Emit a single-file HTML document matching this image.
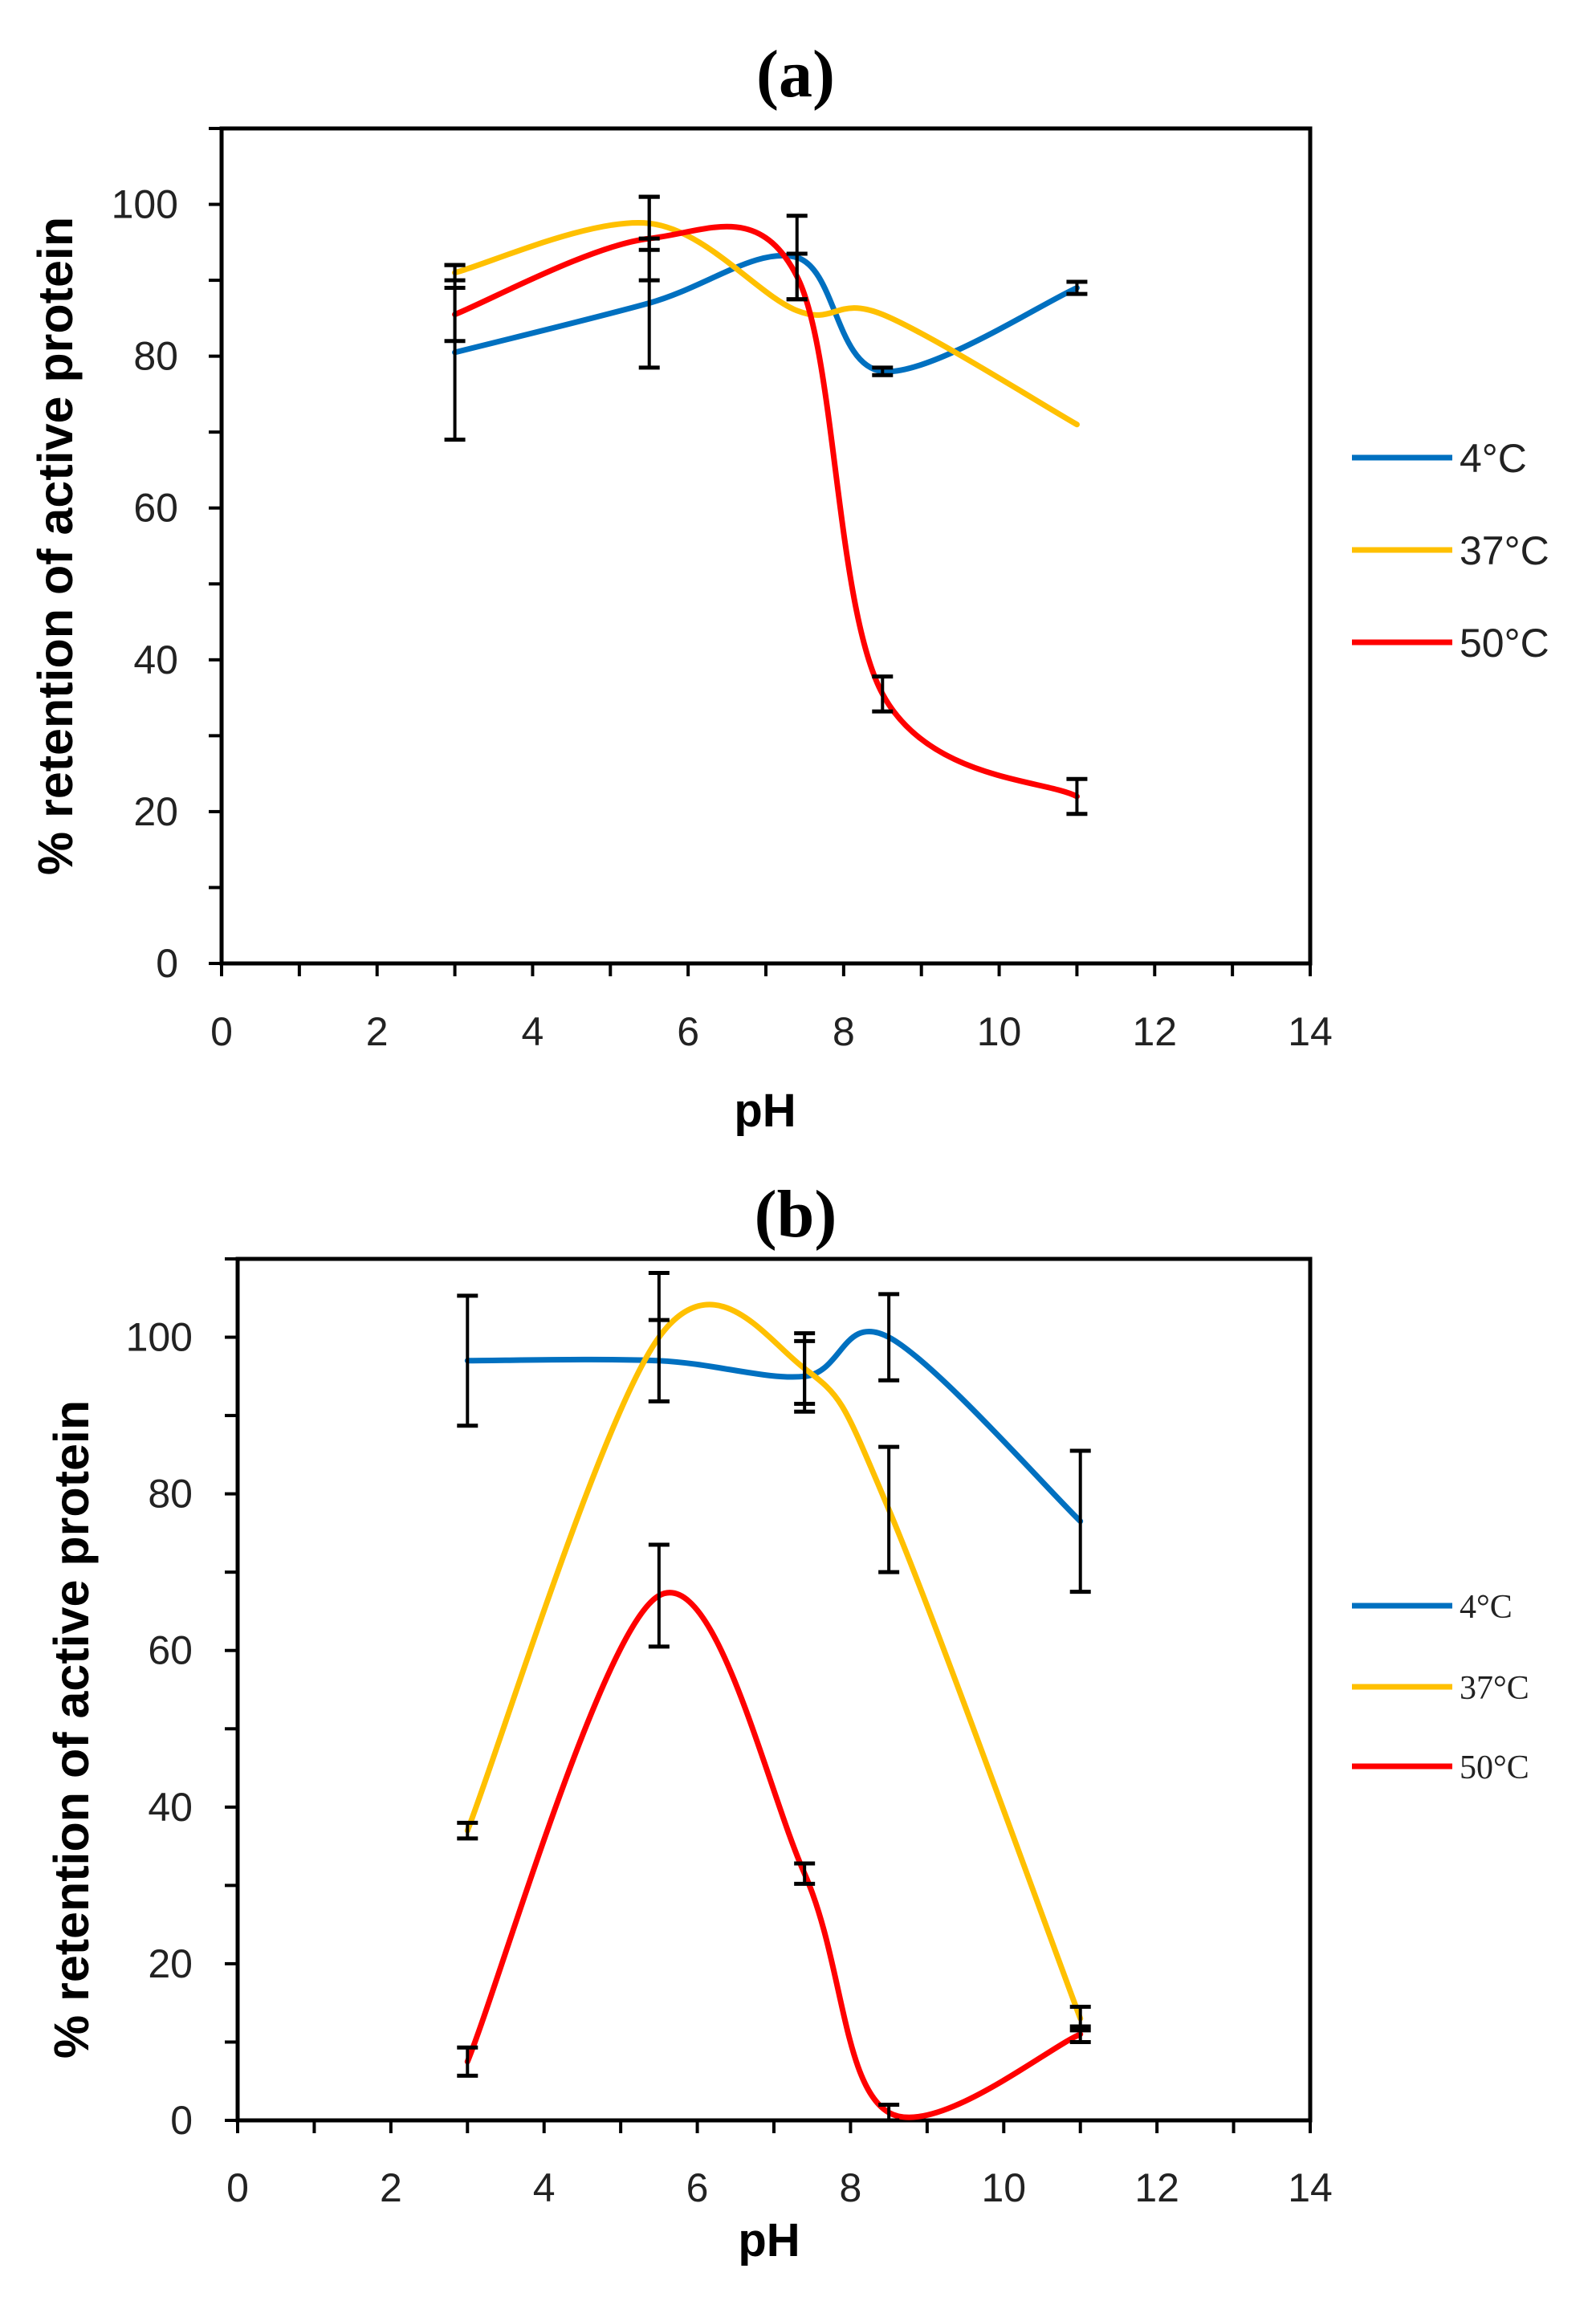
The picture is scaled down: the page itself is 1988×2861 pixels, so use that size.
<!DOCTYPE html>
<html><head><meta charset="utf-8"><style>
html,body{margin:0;padding:0;background:#fff;}
svg{display:block;}
</style></head><body>
<svg id="fig" width="1988" height="2861" xmlns="http://www.w3.org/2000/svg"></svg>
<script>
const phValues = [3, 5.5, 7.4, 8.5, 11];
const seriesNames = ['4°C', '37°C', '50°C'];
const seriesColors = ['#0070C0', '#FFC000', '#FF0000'];
const xTicks = [0, 2, 4, 6, 8, 10, 12, 14];
const yTicks = [0, 20, 40, 60, 80, 100];
// panel a
const a4 = [80.5, 87, 93, 78, 89];
const a37 = [91, 97.5, 86, 85.5, 71];
const a50 = [85.5, 95.5, 90.5, 35.5, 22];
const a4err = [11.5, 8.5, 5.5, 0.5, 0.8];
const a37err = [1, 3.5, 0, 0, 0];
const a50err = [3.5, 5.5, 3, 2.3, 2.3];
// panel b
const b4 = [97, 97, 95, 100, 76.5];
const b37 = [37, 100, 96, 78, 13];
const b50 = [7.5, 67, 31.5, 1, 11];
const b4err = [8.3, 5.2, 4.5, 5.5, 9];
const b37err = [1, 8.2, 4.5, 8, 1.5];
const b50err = [1.8, 6.5, 1.3, 1, 1];

const NS = 'http://www.w3.org/2000/svg';
const svg = document.getElementById('fig');
function mk(tag, attrs, parent) {
  const e = document.createElementNS(NS, tag);
  for (const k in attrs) e.setAttribute(k, attrs[k]);
  (parent || svg).appendChild(e);
  return e;
}
function spline(pts) {
  let d = 'M' + pts[0][0] + ',' + pts[0][1];
  for (let i = 0; i < pts.length - 1; i++) {
    const p0 = pts[i - 1] || pts[i], p1 = pts[i], p2 = pts[i + 1], p3 = pts[i + 2] || pts[i + 1];
    const t = 6;
    const c1 = [p1[0] + (p2[0] - p0[0]) / t, p1[1] + (p2[1] - p0[1]) / t];
    const c2 = [p2[0] - (p3[0] - p1[0]) / t, p2[1] - (p3[1] - p1[1]) / t];
    d += ' C' + c1 + ' ' + c2 + ' ' + p2;
  }
  return d;
}
function panel(cfg) {
  const g = mk('g', {});
  
  
  const X = v => cfg.L + (v / 14) * (cfg.R - cfg.L);
  const Y = v => cfg.B - (v / 110) * (cfg.B - cfg.T);
  const t = mk('text', {x: 991, y: cfg.titleY, 'text-anchor': 'middle', 'font-family': 'Liberation Serif, serif', 'font-weight': 'bold', 'font-size': 84}, g);
  t.textContent = cfg.title;
  
  
  const fr = mk('rect', {x: cfg.L, y: cfg.T, width: cfg.R - cfg.L, height: cfg.B - cfg.T, fill: 'none', stroke: '#000', 'stroke-width': 5}, g);
  
  
  for (let v = 0; v <= 110; v += 10) {
    mk('line', {x1: cfg.L - 16, x2: cfg.L, y1: Y(v), y2: Y(v), stroke: '#000', 'stroke-width': 4}, g);
  }
  yTicks.forEach(v => {
    const tx = mk('text', {x: cfg.ylabX, y: Y(v) + 17, 'text-anchor': 'end', 'font-family': 'Liberation Sans, sans-serif', 'font-size': 50, fill: '#222'}, g);
    tx.textContent = v;
    
    
  });
  for (let v = 0; v <= 14; v++) {
    mk('line', {x1: X(v), x2: X(v), y1: cfg.B, y2: cfg.B + 16, stroke: '#000', 'stroke-width': 4}, g);
  }
  xTicks.forEach(v => {
    const tx = mk('text', {x: X(v), y: cfg.xlabY, 'text-anchor': 'middle', 'font-family': 'Liberation Sans, sans-serif', 'font-size': 50, fill: '#222'}, g);
    tx.textContent = v;
    
    
  });
  const xt = mk('text', {x: cfg.xtX, y: cfg.xtY, 'text-anchor': 'middle', 'font-family': 'Liberation Sans, sans-serif', 'font-weight': 'bold', 'font-size': 58}, g);
  xt.textContent = 'pH';
  
  
  const yt = mk('text', {x: 0, y: 0, 'text-anchor': 'middle', 'font-family': 'Liberation Sans, sans-serif', 'font-weight': 'bold', 'font-size': 61, transform: 'translate(' + cfg.ytX + ',' + cfg.ytY + ') rotate(-90)'}, g);
  yt.textContent = '% retention of active protein';
  
  
  cfg.series.forEach((s, si) => {
    const pts = phValues.map((p, i) => [X(p), Y(s[i])]);
    const path = mk('path', {d: spline(pts), fill: 'none', stroke: seriesColors[si], 'stroke-width': 7, 'stroke-linecap': 'round'}, g);
    
    
  });
  cfg.series.forEach((s, si) => {
    const errs = cfg.errs[si];
    phValues.forEach((p, i) => {
      if (!errs[i]) return;
      const x = X(p), y1 = Y(s[i] - errs[i]), y2 = Y(s[i] + errs[i]);
      const eb = mk('g', {stroke: '#000'}, g);
      
      
      mk('line', {x1: x, x2: x, y1: y1, y2: y2, 'stroke-width': 4}, eb);
      mk('line', {x1: x - 13, x2: x + 13, y1: y1, y2: y1, 'stroke-width': 5}, eb);
      mk('line', {x1: x - 13, x2: x + 13, y1: y2, y2: y2, 'stroke-width': 5}, eb);
    });
  });
  seriesNames.forEach((n, i) => {
    const lg = mk('g', {}, g);
    
    
    const ly = cfg.legY[i];
    mk('line', {x1: 1684, x2: 1809, y1: ly, y2: ly, stroke: seriesColors[i], 'stroke-width': 7}, lg);
    const tx = mk('text', {x: 1818, y: ly + cfg.legFs * 0.36, 'font-family': cfg.legFont, 'font-size': cfg.legFs, fill: '#222'}, lg);
    tx.textContent = n;
  });
}
panel({name: 'panel-a', title: '(a)', titleY: 120, L: 276, R: 1632, T: 160, B: 1200,
  ylabX: 222, xlabY: 1302, xtX: 953, xtY: 1403, ytX: 90, ytY: 680,
  series: [a4, a37, a50], errs: [a4err, a37err, a50err], legY: [570, 685, 800],
  legFont: 'Liberation Sans, sans-serif', legFs: 50});
panel({name: 'panel-b', title: '(b)', titleY: 1540, L: 296, R: 1632, T: 1568, B: 2641,
  ylabX: 240, xlabY: 2742, xtX: 958, xtY: 2810, ytX: 110, ytY: 2154,
  series: [b4, b37, b50], errs: [b4err, b37err, b50err], legY: [2000, 2101, 2200],
  legFont: 'Liberation Serif, serif', legFs: 42});
</script>
</body></html>
